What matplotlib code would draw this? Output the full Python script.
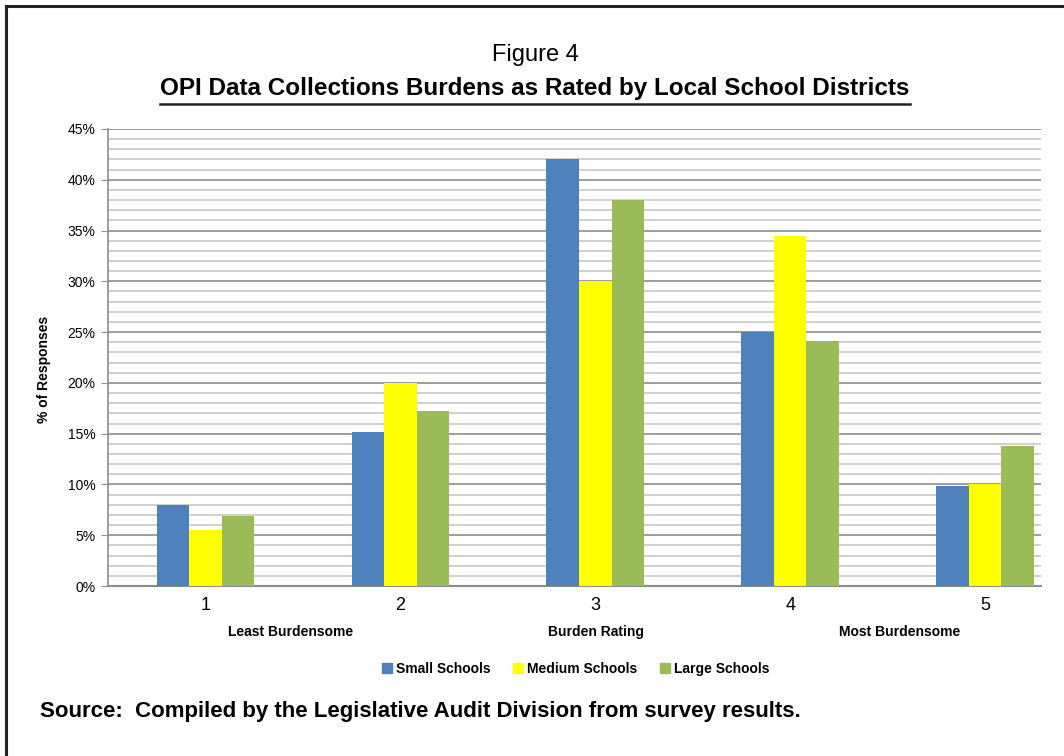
import matplotlib
matplotlib.use("Agg")
import matplotlib.pyplot as plt
from matplotlib.lines import Line2D
from matplotlib.ticker import MultipleLocator, FuncFormatter
import numpy as np

categories = ["1", "2", "3", "4", "5"]
series_names = ["Small Schools", "Medium Schools", "Large Schools"]
small = [8.0, 15.2, 42.0, 25.0, 9.8]
medium = [5.5, 20.0, 30.0, 34.5, 10.0]
large = [6.9, 17.2, 38.0, 24.1, 13.8]
colors = ["#4F81BD", "#FFFF00", "#9BBB59"]

plt.rcParams['font.family'] = ['Liberation Sans', 'DejaVu Sans']

fig = plt.figure(figsize=(10.64, 7.56), dpi=100)
ax = fig.add_axes([108/1064, 1 - 586/756, (1041-108)/1064, (586-129)/756])

x = np.arange(len(categories))
w = 0.167
for i, (vals, c) in enumerate(zip([small, medium, large], colors)):
    ax.bar(x + (i - 1) * w, vals, width=w, color=c, zorder=3,
           label=series_names[i], edgecolor='none')

ax.set_ylim(0, 45)
ax.set_xlim(-0.5, 4.287)
ax.yaxis.set_major_locator(MultipleLocator(5))
ax.yaxis.set_minor_locator(MultipleLocator(1))
ax.yaxis.set_major_formatter(FuncFormatter(lambda v, p: f"{int(round(v))}%"))
ax.grid(which='major', axis='y', color='#8C8C8C', linewidth=1.2, zorder=0)
ax.grid(which='minor', axis='y', color='#C8C8C8', linewidth=1.2, zorder=0)
ax.set_xticks(x)
ax.set_xticklabels(categories, fontsize=13)
ax.tick_params(axis='x', length=0, pad=8)
ax.tick_params(axis='y', which='major', length=5, color='#8C8C8C', labelsize=10, pad=4)
ax.tick_params(axis='y', which='minor', length=0)
for s in ['top', 'right']:
    ax.spines[s].set_visible(False)
ax.spines['left'].set_color('#8C8C8C')
ax.spines['bottom'].set_color('#8C8C8C')
ax.spines['left'].set_linewidth(1.2)
ax.spines['bottom'].set_linewidth(1.5)

ax.set_ylabel("% of Responses", fontsize=10, fontweight='bold')
ax.yaxis.set_label_coords(-0.061, 0.475)

# x labels
fig.text(291/1064, 1 - 632/756, "Least Burdensome", ha='center', va='center',
         fontsize=10, fontweight='bold')
fig.text(596/1064, 1 - 632/756, "Burden Rating", ha='center', va='center',
         fontsize=10, fontweight='bold')
fig.text(900/1064, 1 - 632/756, "Most Burdensome", ha='center', va='center',
         fontsize=10, fontweight='bold')

# titles
fig.text(535/1064, 1 - 55/756, "Figure 4", ha='center', va='center',
         fontsize=17)
t2 = fig.text(535/1064, 1 - 88/756,
              "OPI Data Collections Burdens as Rated by Local School Districts",
              ha='center', va='center', fontsize=17.5, fontweight='bold')

# legend
handles = [Line2D([0], [0], marker='s', linestyle='none', markersize=7,
                  markerfacecolor=c, markeredgecolor=c) for c in colors]
fig.legend(handles, series_names, loc='center', bbox_to_anchor=(575/1064, 1 - 669/756),
           ncol=3, frameon=False, prop={'size': 10, 'weight': 'bold'},
           handletextpad=0.15, columnspacing=1.5, handlelength=1.0)

# source
fig.text(40/1064, 1 - 712/756,
         "Source:  Compiled by the Legislative Audit Division from survey results.",
         ha='left', va='center', fontsize=16, fontweight='bold')

# underline for title
fig.canvas.draw()
bb = t2.get_window_extent()
inv = fig.transFigure.inverted()
(x0, y0), (x1, y1) = inv.transform([(bb.x0, bb.y0), (bb.x1, bb.y1)])
fig.add_artist(Line2D([x0, x1], [1 - 104/756, 1 - 104/756], color='#222222',
                      linewidth=1.8, transform=fig.transFigure))

# frame (top and left)
fig.add_artist(Line2D([6/1064, 1.0], [1 - 6/756, 1 - 6/756], color='#222222',
                      linewidth=2.2, transform=fig.transFigure))
fig.add_artist(Line2D([6/1064, 6/1064], [1 - 6/756, 0], color='#222222',
                      linewidth=2.2, transform=fig.transFigure))

fig.savefig("out.png", dpi=100)
